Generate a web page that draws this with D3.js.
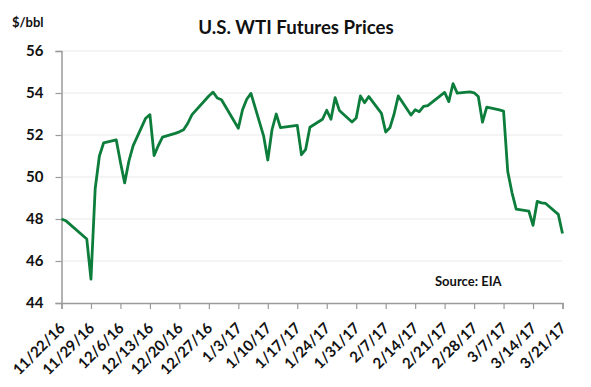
<!DOCTYPE html>
<html>
<head>
<meta charset="utf-8">
<script src="https://cdn.jsdelivr.net/npm/d3@7"></script>
<style>
  html, body { margin: 0; padding: 0; background: #fff; }
  svg { display: block; font-family: Lato, "Open Sans", sans-serif; font-weight: bold; }
</style>
</head>
<body>
<svg id="chart" width="591" height="387"></svg>
<script>
const title = "U.S. WTI Futures Prices";
const unitLabel = "$/bbl";
const sourceLabel = "Source: EIA";

const dates = [
  "2016-11-22","2016-11-23","2016-11-28","2016-11-29","2016-11-30","2016-12-01","2016-12-02",
  "2016-12-05","2016-12-06","2016-12-07","2016-12-08","2016-12-09","2016-12-12","2016-12-13",
  "2016-12-14","2016-12-15","2016-12-16","2016-12-19","2016-12-20","2016-12-21","2016-12-22",
  "2016-12-23","2016-12-27","2016-12-28","2016-12-29","2016-12-30","2017-01-03","2017-01-04",
  "2017-01-05","2017-01-06","2017-01-09","2017-01-10","2017-01-11","2017-01-12","2017-01-13",
  "2017-01-17","2017-01-18","2017-01-19","2017-01-20","2017-01-23","2017-01-24","2017-01-25",
  "2017-01-26","2017-01-27","2017-01-30","2017-01-31","2017-02-01","2017-02-02","2017-02-03",
  "2017-02-06","2017-02-07","2017-02-08","2017-02-09","2017-02-10","2017-02-13","2017-02-14",
  "2017-02-15","2017-02-16","2017-02-17","2017-02-21","2017-02-22","2017-02-23","2017-02-24",
  "2017-02-27","2017-02-28","2017-03-01","2017-03-02","2017-03-03","2017-03-06","2017-03-07",
  "2017-03-08","2017-03-09","2017-03-10","2017-03-13","2017-03-14","2017-03-15","2017-03-16",
  "2017-03-17","2017-03-20","2017-03-21"
];
const prices = [
  48.00,47.92,47.05,45.14,49.44,51.00,51.62,
  51.77,50.70,49.72,50.75,51.48,52.80,52.97,
  51.02,51.50,51.90,52.08,52.15,52.25,52.56,
  52.97,53.86,54.04,53.76,53.68,52.32,53.20,
  53.70,53.98,51.96,50.81,52.25,53.00,52.35,
  52.46,51.06,51.32,52.37,52.75,53.18,52.75,
  53.78,53.17,52.62,52.81,53.86,53.54,53.83,
  53.03,52.14,52.34,53.00,53.86,52.95,53.20,
  53.11,53.36,53.40,54.03,53.59,54.45,53.99,
  54.05,54.01,53.83,52.61,53.33,53.20,53.14,
  50.25,49.26,48.47,48.38,47.70,48.84,48.77,
  48.74,48.22,47.31
];
const xTickDates = [
  "2016-11-22","2016-11-29","2016-12-06","2016-12-13","2016-12-20","2016-12-27",
  "2017-01-03","2017-01-10","2017-01-17","2017-01-24","2017-01-31","2017-02-07",
  "2017-02-14","2017-02-21","2017-02-28","2017-03-07","2017-03-14","2017-03-21"
];
const yTicks = [44, 46, 48, 50, 52, 54, 56];

const parse = d3.utcParse("%Y-%m-%d");
const data = dates.map((d, i) => ({ date: parse(d), value: prices[i] }));
const tickDates = xTickDates.map(parse);

const svg = d3.select("#chart");
const plot = { left: 61.5, right: 562.5, top: 51, bottom: 303 };

const x = d3.scaleUtc()
  .domain([parse(xTickDates[0]), parse(xTickDates[xTickDates.length - 1])])
  .range([plot.left, plot.right]);
const y = d3.scaleLinear().domain([44, 56]).range([plot.bottom, plot.top]);

// gridlines
svg.append("g")
  .selectAll("line")
  .data(yTicks.filter(t => t > 44))
  .join("line")
  .attr("x1", plot.left).attr("x2", plot.right)
  .attr("y1", d => y(d)).attr("y2", d => y(d))
  .attr("stroke", "#e9e9e9").attr("stroke-width", 1.2);

// y axis
const yAxis = svg.append("g")
  .attr("transform", `translate(${plot.left},0)`)
  .call(d3.axisLeft(y).tickValues(yTicks).tickSize(6).tickPadding(12).tickFormat(d3.format("d")));
yAxis.select(".domain").attr("stroke", "#9a9a9a").attr("stroke-width", 1.5);
yAxis.selectAll(".tick line").attr("stroke", "#9a9a9a").attr("stroke-width", 1.2);
yAxis.selectAll(".tick text")
  .attr("font-family", "Lato, sans-serif").attr("font-weight", "bold")
  .attr("font-size", 15).attr("fill", "#111");

// x axis
const fmt = d3.utcFormat("%-m/%-d/%y");
const xAxis = svg.append("g")
  .attr("transform", `translate(0,${plot.bottom})`)
  .call(d3.axisBottom(x).tickValues(tickDates).tickSize(6).tickSizeOuter(6).tickFormat(fmt));
xAxis.select(".domain").attr("stroke", "#9a9a9a").attr("stroke-width", 1.5);
xAxis.selectAll(".tick line").attr("stroke", "#9a9a9a").attr("stroke-width", 1.2);
xAxis.selectAll(".tick text")
  .attr("font-family", "Lato, sans-serif").attr("font-weight", "bold")
  .attr("font-size", 15).attr("fill", "#111")
  .attr("text-anchor", "end")
  .attr("dy", null)
  .attr("y", 0)
  .attr("transform", "translate(4,26) rotate(-45)");

// line
const line = d3.line().x(d => x(d.date)).y(d => y(d.value));
svg.append("path")
  .datum(data)
  .attr("d", line)
  .attr("fill", "none")
  .attr("stroke", "#0c7d3b")
  .attr("stroke-width", 2.8)
  .attr("stroke-linejoin", "round");

// texts
svg.append("text")
  .attr("x", 296).attr("y", 34)
  .attr("text-anchor", "middle")
  .attr("font-size", 18.7).attr("fill", "#111")
  .text(title);

svg.append("text")
  .attr("x", 12).attr("y", 27)
  .attr("font-size", 13).attr("fill", "#111")
  .text(unitLabel);

svg.append("text")
  .attr("x", 435).attr("y", 286)
  .attr("font-size", 13).attr("fill", "#111")
  .text(sourceLabel);
</script>
</body>
</html>
